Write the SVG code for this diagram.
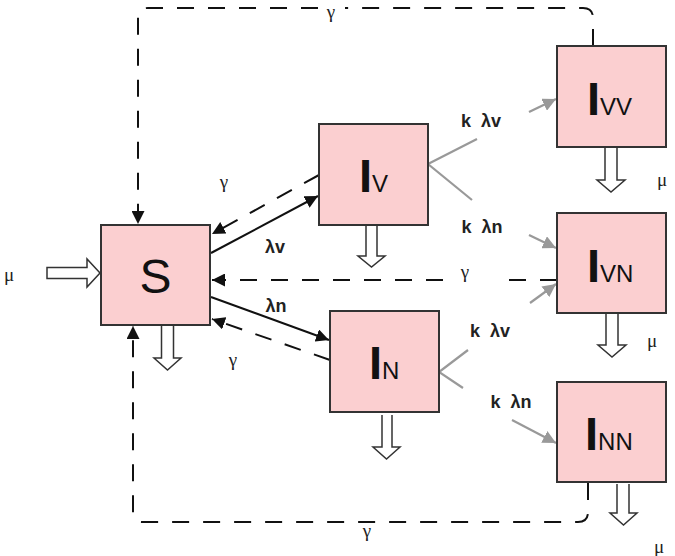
<svg xmlns="http://www.w3.org/2000/svg" width="675" height="556" viewBox="0 0 675 556">
<style>
.box{fill:#fbcfd0;stroke:#333;stroke-width:2}
.big{font-family:"Liberation Sans",Arial,sans-serif;font-size:47px;font-weight:bold;fill:#111}
.sub{font-family:"Liberation Sans",Arial,sans-serif;font-size:24px;fill:#111}
.s{font-family:"Liberation Sans",Arial,sans-serif;font-size:48px;fill:#111}
.lab{font-family:"Liberation Sans",Arial,sans-serif;font-size:18px;font-weight:bold;fill:#222}
.gr{font-family:"Liberation Serif","Times New Roman",serif;font-size:19px;fill:#222}
.dash{fill:none;stroke:#111;stroke-width:2;stroke-dasharray:17 14}
.solid{fill:none;stroke:#111;stroke-width:2}
.grey{fill:none;stroke:#999;stroke-width:2.2}
.hollow{fill:#fff;stroke:#333;stroke-width:1.5}
</style>
<defs>
<marker id="ah" viewBox="0 0 10 10" refX="10" refY="5" markerWidth="6.5" markerHeight="6.5" orient="auto" markerUnits="strokeWidth"><path d="M0,0 L10,5 L0,10 z" fill="#111"/></marker>
<marker id="ahg" viewBox="0 0 10 10" refX="10" refY="5" markerWidth="6" markerHeight="6" orient="auto" markerUnits="strokeWidth"><path d="M0,0 L10,5 L0,10 z" fill="#999"/></marker>
</defs>
<g id="connectors">
<path class="dash" d="M593,46 V18 Q593,8 583,8 H345"/>
<path class="dash" d="M318,8 H148 Q138,8 138,18 V224" marker-end="url(#ah)"/>
<path class="dash" d="M588,483 V512 Q588,522 578,522 H143 Q133,522 133,512 V326" marker-end="url(#ah)"/>
<path class="dash" d="M557,280 H503"/>
<path class="dash" d="M443,280 H212" marker-end="url(#ah)"/>
<path class="solid" d="M211,253 L318,196" marker-end="url(#ah)"/>
<path class="dash" d="M319,175 L212,234" marker-end="url(#ah)"/>
<path class="solid" d="M211,297 L329,340" marker-end="url(#ah)"/>
<path class="dash" d="M330,360 L212,319" marker-end="url(#ah)"/>
<path class="grey" d="M477,139 L428,164 L472,200"/>
<path class="grey" d="M529,112 L556,99" marker-end="url(#ahg)"/>
<path class="grey" d="M529,235 L556,248" marker-end="url(#ahg)"/>
<path class="grey" d="M468,350 L439,372 L463,388"/>
<path class="grey" d="M530,303 L556,284" marker-end="url(#ahg)"/>
<path class="grey" d="M512,420 L556,443" marker-end="url(#ahg)"/>
<path class="hollow" d="M47,267.5 H87 V259 L100,273 L87,287 V278.5 H47 Z"/>
<path class="hollow" d="M161.5,326 V358 H154 L167.5,370 L181,358 H173.5 V326"/>
<path class="hollow" d="M366,226 V256 H358 L371.5,267 L385,256 H377 V226"/>
<path class="hollow" d="M382,415 V447 H373 L386.5,459 L400,447 H392 V415"/>
<path class="hollow" d="M605,148 V180 H597 L611,192 L625,180 H617 V148"/>
<path class="hollow" d="M606,314 V345 H598 L612,357 L626,345 H618 V314"/>
<path class="hollow" d="M617,484 V513 H610 L623.5,525 L637,513 H629 V484"/>
</g>
<g id="labels">
<text class="gr" x="331" y="18" text-anchor="middle">γ</text>
<text class="gr" x="367" y="537" text-anchor="middle">γ</text>
<text class="gr" x="465" y="278" text-anchor="middle">γ</text>
<text class="gr" x="224" y="188" text-anchor="middle">γ</text>
<text class="gr" x="233" y="366" text-anchor="middle">γ</text>
<text class="gr" x="9" y="281" text-anchor="middle">μ</text>
<text class="gr" x="662" y="186" text-anchor="middle">μ</text>
<text class="gr" x="652" y="347" text-anchor="middle">μ</text>
<text class="gr" x="659" y="553" text-anchor="middle">μ</text>
<text class="lab" x="275" y="253" text-anchor="middle">λv</text>
<text class="lab" x="276" y="312" text-anchor="middle">λn</text>
<text class="lab" x="481" y="127" text-anchor="middle" xml:space="preserve">k  λv</text>
<text class="lab" x="482" y="233" text-anchor="middle" xml:space="preserve">k  λn</text>
<text class="lab" x="490" y="337" text-anchor="middle" xml:space="preserve">k  λv</text>
<text class="lab" x="511" y="408" text-anchor="middle" xml:space="preserve">k  λn</text>
</g>
<g id="S">
<rect class="box" x="101" y="225" width="109" height="100"/>
<text class="s" x="155.5" y="293" text-anchor="middle">S</text>
</g>
<g id="Iv">
<rect class="box" x="319" y="124" width="109" height="101"/>
<text x="359" y="192"><tspan class="big">I</tspan><tspan class="sub">V</tspan></text>
</g>
<g id="In">
<rect class="box" x="330" y="311" width="109" height="101"/>
<text x="369" y="379"><tspan class="big">I</tspan><tspan class="sub">N</tspan></text>
</g>
<g id="Ivv">
<rect class="box" x="557" y="46" width="109" height="101"/>
<text x="587" y="115"><tspan class="big">I</tspan><tspan class="sub">VV</tspan></text>
</g>
<g id="Ivn">
<rect class="box" x="557" y="213" width="109" height="100"/>
<text x="587" y="282"><tspan class="big">I</tspan><tspan class="sub">VN</tspan></text>
</g>
<g id="Inn">
<rect class="box" x="557" y="382" width="109" height="100"/>
<text x="585" y="450"><tspan class="big">I</tspan><tspan class="sub">NN</tspan></text>
</g>
</svg>
